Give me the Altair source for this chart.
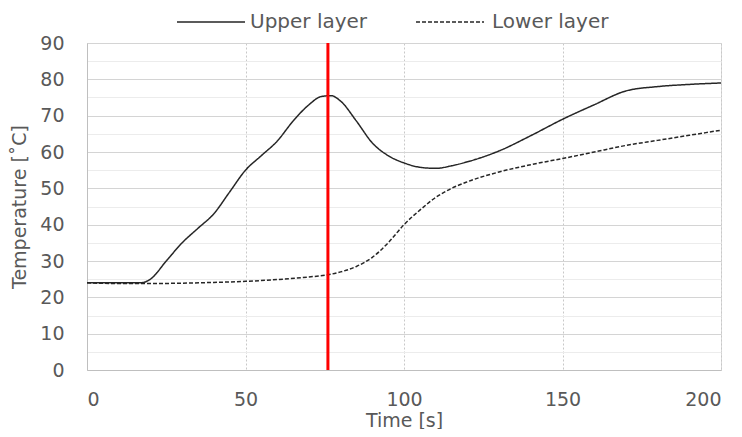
import altair as alt
import pandas as pd

# Upper layer (solid)
upper_t = [0, 10, 17, 20, 25, 30, 35, 40, 45, 50, 55, 60, 65, 70, 74, 77, 80, 85, 90, 95, 100, 105, 110, 115, 120, 130, 140, 150, 160, 170, 180, 190, 200]
upper_v = [24, 24, 24, 25, 30, 35, 39, 43, 49, 55, 59, 63, 68.5, 73, 75.3, 75.5, 74, 68.5, 62.5, 59, 57, 55.8, 55.5, 56.2, 57.3, 60.3, 64.5, 69, 73, 76.8, 78, 78.6, 79]

# Lower layer (dashed)
lower_t = [0, 10, 20, 30, 40, 50, 60, 70, 76, 80, 85, 90, 95, 100, 105, 110, 115, 120, 130, 140, 150, 160, 170, 180, 190, 200]
lower_v = [24, 23.8, 23.8, 23.9, 24.1, 24.4, 24.9, 25.6, 26.2, 27, 28.5, 31, 35, 40, 44, 47.5, 50, 51.8, 54.5, 56.5, 58.2, 60, 61.8, 63.2, 64.6, 66]

marker_t = [76]

series_names = ["Upper layer", "Lower layer"]
series_dash = [[1, 0], [4, 2]]

rows = []
for t, v in zip(upper_t, upper_v):
    rows.append({"t": t, "v": v, "s": series_names[0]})
for t, v in zip(lower_t, lower_v):
    rows.append({"t": t, "v": v, "s": series_names[1]})
df = pd.DataFrame(rows)
df_marker = pd.DataFrame({"t": marker_t})

FONT = "DejaVu Sans"
TXT = "#595959"
LINE = "#262626"

x_scale = alt.Scale(domain=[0, 200], nice=False)
y_scale = alt.Scale(domain=[0, 90], nice=False)

lines = alt.Chart(df).mark_line(interpolate="monotone", color=LINE, strokeWidth=1.5).encode(
    x=alt.X("t:Q", scale=x_scale,
            axis=alt.Axis(title="Time [s]", values=[0, 50, 100, 150, 200], labelPadding=20,
                          titlePadding=2, ticks=False, grid=True, gridColor="#c8c8c8",
                          gridDash=[2, 2], domainColor="#bfbfbf")),
    y=alt.Y("v:Q", scale=y_scale,
            axis=alt.Axis(title="Temperature [˚C]", values=list(range(0, 91, 5)),
                          labelExpr="datum.value % 10 === 0 ? datum.label : ''",
                          labelPadding=23, titlePadding=10, ticks=False, grid=True,
                          gridColor={"condition": {"test": "datum.value % 10 === 0", "value": "#d4d4d4"}, "value": "#ececec"},
                          domainColor="#bfbfbf")),
    strokeDash=alt.StrokeDash("s:N",
                              scale=alt.Scale(domain=series_names, range=series_dash),
                              legend=None),
    detail="s:N",
)

marker = alt.Chart(df_marker).mark_rule(color="#ff0000", strokeWidth=3).encode(x=alt.X("t:Q", scale=x_scale))

# Legend drawn above the plot area
legend_layers = []
legend_pos = [(90, 158, 163), (329, 397, 405)]
for name, dash, (x1, x2, xt) in zip(series_names, series_dash, legend_pos):
    ldf = pd.DataFrame({"s": [name]})
    legend_layers.append(
        alt.Chart(ldf).mark_rule(color=LINE, strokeWidth=1.5, strokeDash=dash).encode(
            x=alt.value(x1), x2=alt.value(x2), y=alt.value(-21))
    )
    legend_layers.append(
        alt.Chart(ldf).mark_text(align="left", baseline="middle", font=FONT, fontSize=20, color=TXT).encode(
            x=alt.value(xt), y=alt.value(-21), text="s:N")
    )

chart = alt.layer(lines, marker, *legend_layers).properties(
    width=634, height=327,
    autosize=alt.AutoSizeParams(type="none"),
    padding={"left": 79, "top": 35, "right": 13, "bottom": 59},
).configure_axis(
    labelFont=FONT, titleFont=FONT, labelFontSize=19, titleFontSize=19,
    labelColor=TXT, titleColor=TXT, titleFontWeight="normal",
).configure_view(stroke="#d9d9d9")

chart.save("out.html", embed_options={"renderer": "svg", "actions": False})
